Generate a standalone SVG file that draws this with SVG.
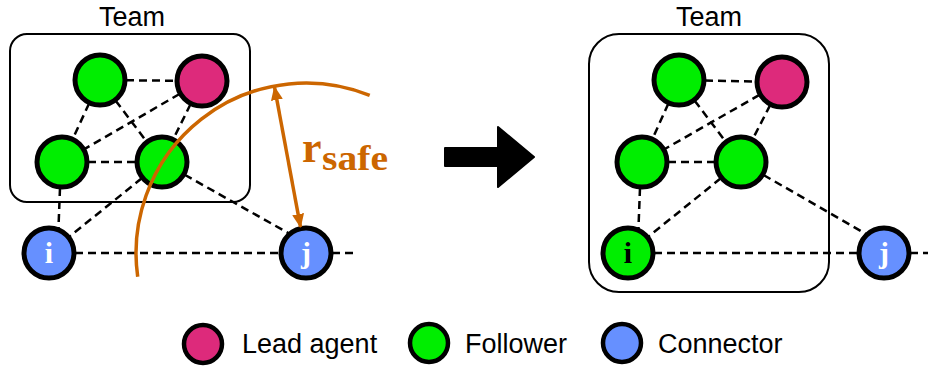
<svg xmlns="http://www.w3.org/2000/svg" width="928" height="367" viewBox="0 0 928 367">
<style>
.box{fill:none;stroke:#000;stroke-width:2}
.edge{stroke:#000;stroke-width:2.5;stroke-dasharray:8,5;fill:none}
.node{stroke:#000;stroke-width:5}
.lg{stroke:#000;stroke-width:4.5}
.lead{fill:#DD2A7B}
.fol{fill:#00EE00}
.con{fill:#6690FF}
.title{font-family:"Liberation Sans",Arial,sans-serif;font-size:27px;fill:#000;text-anchor:middle}
.leg{font-family:"Liberation Sans",Arial,sans-serif;font-size:27px;fill:#000}
.nl{font-family:"Liberation Serif","Times New Roman",serif;font-weight:bold;font-size:30px;text-anchor:middle}
.rs{font-family:"Liberation Serif","Times New Roman",serif;font-weight:bold;fill:#CC6600}
</style>
<defs>
<marker id="ah" viewBox="0 0 14 12" refX="13" refY="6" markerWidth="14" markerHeight="12" markerUnits="userSpaceOnUse" orient="auto-start-reverse">
<path d="M0,0 L14,6 L0,12 z" fill="#CC6600"/>
</marker>
</defs>

<g id="team-left">
<rect class="box" x="10" y="34" width="240" height="168" rx="17"/>
<text class="title" x="132" y="26">Team</text>
</g>
<g id="team-right">
<rect class="box" x="589" y="34" width="240" height="258" rx="30"/>
<text class="title" x="709" y="26">Team</text>
</g>

<g id="connectors">
<!-- left -->
<line class="edge" x1="100" y1="80" x2="202" y2="81"/>
<line class="edge" x1="100" y1="80" x2="62" y2="162"/>
<line class="edge" x1="100" y1="80" x2="162" y2="162"/>
<line class="edge" x1="202" y1="81" x2="62" y2="162"/>
<line class="edge" x1="202" y1="81" x2="162" y2="162"/>
<line class="edge" x1="62" y1="162" x2="162" y2="162"/>
<line class="edge" x1="61" y1="162" x2="58" y2="240"/>
<line class="edge" x1="162" y1="162" x2="49" y2="253"/>
<line class="edge" x1="162" y1="162" x2="290" y2="234"/>
<line class="edge" x1="49" y1="253" x2="306" y2="253"/>
<line class="edge" x1="306" y1="253" x2="356" y2="253"/>
<!-- right -->
<line class="edge" x1="679" y1="80" x2="782" y2="82"/>
<line class="edge" x1="679" y1="80" x2="642" y2="162"/>
<line class="edge" x1="679" y1="80" x2="741" y2="162"/>
<line class="edge" x1="782" y1="82" x2="642" y2="162"/>
<line class="edge" x1="782" y1="82" x2="741" y2="162"/>
<line class="edge" x1="642" y1="162" x2="741" y2="162"/>
<line class="edge" x1="641" y1="162" x2="638" y2="240"/>
<line class="edge" x1="741" y1="162" x2="628" y2="253"/>
<line class="edge" x1="741" y1="162" x2="866" y2="234"/>
<line class="edge" x1="628" y1="253" x2="884" y2="253"/>
<line class="edge" x1="884" y1="253" x2="928" y2="253"/>
</g>

<g id="l-tl"><circle class="node fol" cx="100" cy="80" r="25"/></g>
<g id="l-lead"><circle class="node lead" cx="202" cy="81" r="25"/></g>
<g id="l-ml"><circle class="node fol" cx="62" cy="162" r="25"/></g>
<g id="l-mr"><circle class="node fol" cx="162" cy="162" r="25"/></g>
<g id="l-i"><circle class="node con" cx="49" cy="253" r="25"/><text class="nl" x="49" y="263" fill="#fff">i</text></g>
<g id="l-j"><circle class="node con" cx="306" cy="253" r="25"/><text class="nl" x="306" y="263" fill="#fff">j</text></g>

<g id="r-tl"><circle class="node fol" cx="679" cy="80" r="25"/></g>
<g id="r-lead"><circle class="node lead" cx="782" cy="82" r="25"/></g>
<g id="r-ml"><circle class="node fol" cx="642" cy="162" r="25"/></g>
<g id="r-mr"><circle class="node fol" cx="741" cy="162" r="25"/></g>
<g id="r-i"><circle class="node fol" cx="628" cy="253" r="25"/><text class="nl" x="628" y="263" fill="#000">i</text></g>
<g id="r-j"><circle class="node con" cx="884" cy="253" r="25"/><text class="nl" x="884" y="263" fill="#fff">j</text></g>

<g id="safe-radius">
<path d="M137.7,276.7 A170,170 0 0 1 369.7,95.4" fill="none" stroke="#CC6600" stroke-width="3.5"/>
<line x1="300.5" y1="227" x2="274.5" y2="87" stroke="#CC6600" stroke-width="3.5" marker-start="url(#ah)" marker-end="url(#ah)"/>
<text class="rs" x="302" y="162" font-size="44">r</text>
<text class="rs" x="322" y="170" font-size="36" textLength="66" lengthAdjust="spacingAndGlyphs">safe</text>
</g>

<g id="big-arrow">
<path d="M445,148 L498,148 L498,127 L534,157 L498,187 L498,166 L445,166 Z" fill="#000" stroke="#000" stroke-width="2" stroke-linejoin="round"/>
</g>

<g id="legend">
<circle class="lg lead" cx="203" cy="344" r="19"/>
<text class="leg" x="242" y="353">Lead agent</text>
<circle class="lg fol" cx="429" cy="343" r="19"/>
<text class="leg" x="465" y="353">Follower</text>
<circle class="lg con" cx="622" cy="343" r="19"/>
<text class="leg" x="658" y="353">Connector</text>
</g>
</svg>
